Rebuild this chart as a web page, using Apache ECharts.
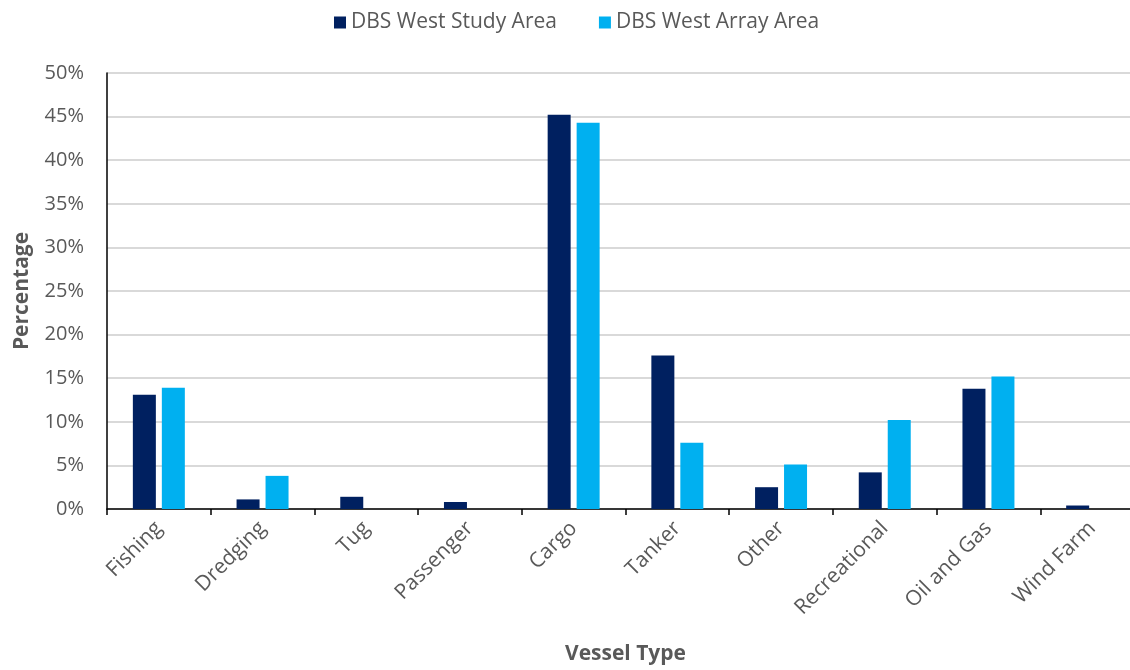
<!DOCTYPE html>
<html>
<head>
<meta charset="utf-8">
<script src="https://cdn.jsdelivr.net/npm/echarts@6/dist/echarts.min.js"></script>
<style>
  html, body { margin: 0; padding: 0; background: #ffffff; overflow: hidden; width: 1130px; height: 670px; }
  #chart { width: 1144px; height: 670px; }
</style>
</head>
<body>
<div id="chart"></div>
<script>
// Vessel types along the x axis
const vesselTypes = ['Fishing', 'Dredging', 'Tug', 'Passenger', 'Cargo', 'Tanker', 'Other', 'Recreational', 'Oil and Gas', 'Wind Farm'];

// Share of vessels per type (%)
const studyArea = [13.1, 1.1, 1.4, 0.8, 45.2, 17.6, 2.5, 4.2, 13.8, 0.4];
const arrayArea = [13.9, 3.8, 0, 0, 44.3, 7.6, 5.1, 10.2, 15.2, 0];

const seriesNames = ['DBS West Study Area', 'DBS West Array Area'];
const FONT = '"Open Sans", "Liberation Sans", sans-serif';
const TEXT = '#595959';

const chart = echarts.init(document.getElementById('chart'), null, { renderer: 'canvas' });

chart.setOption({
  animation: false,
  backgroundColor: '#ffffff',
  textStyle: { fontFamily: FONT },
  legend: {
    top: 7,
    left: 329,
    itemWidth: 12,
    itemHeight: 12,
    itemGap: 42,
    icon: 'rect',
    textStyle: { color: TEXT, fontSize: 21, fontFamily: FONT },
    data: seriesNames
  },
  grid: { left: 107, right: 0, top: 73, bottom: 161, containLabel: false, outerBoundsMode: 'none' },
  xAxis: {
    type: 'category',
    data: vesselTypes,
    name: 'Vessel Type',
    nameLocation: 'middle',
    nameGap: 135,
    nameTextStyle: { color: TEXT, fontSize: 21, fontWeight: 'bold', fontFamily: FONT },
    axisLine: { lineStyle: { color: '#000000', width: 1.5 } },
    axisTick: { show: true, length: 6, lineStyle: { color: '#000000', width: 1.5 } },
    axisLabel: { rotate: 45, margin: 16, color: TEXT, fontSize: 21, fontFamily: FONT }
  },
  yAxis: {
    type: 'value',
    min: 0,
    max: 50,
    interval: 5,
    name: 'Percentage',
    nameLocation: 'middle',
    nameGap: 74,
    nameTextStyle: { color: TEXT, fontSize: 21, fontWeight: 'bold', fontFamily: FONT },
    axisLine: { show: true, lineStyle: { color: '#000000', width: 1.5 } },
    axisTick: { show: false },
    axisLabel: { formatter: '{value}%', margin: 23, color: TEXT, fontSize: 20, fontFamily: FONT },
    splitLine: { lineStyle: { color: '#d9d9d9', width: 2 } }
  },
  series: [
    {
      name: seriesNames[0],
      type: 'bar',
      data: studyArea,
      barWidth: 23,
      barGap: '26%',
      itemStyle: { color: '#002060' }
    },
    {
      name: seriesNames[1],
      type: 'bar',
      data: arrayArea,
      barWidth: 23,
      itemStyle: { color: '#00B0F0' }
    }
  ]
});
</script>
</body>
</html>
